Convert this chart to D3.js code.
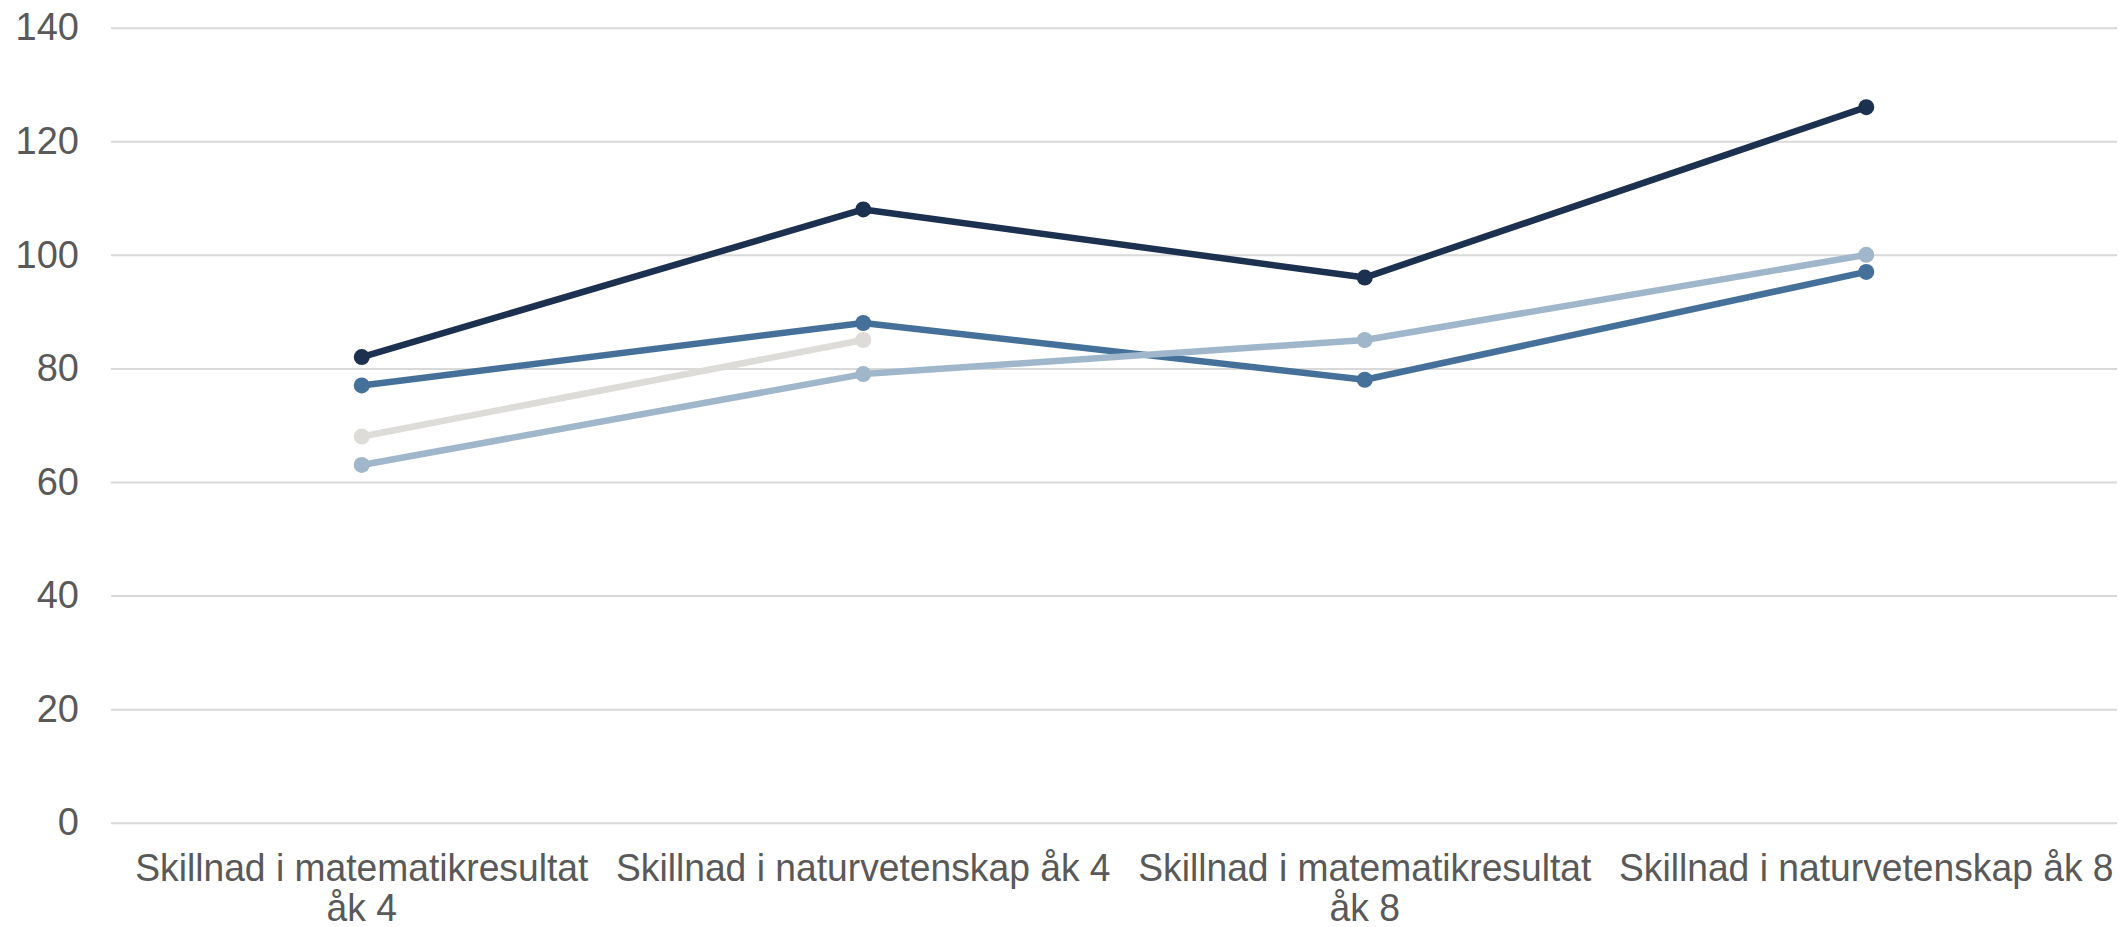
<!DOCTYPE html>
<html>
<head>
<meta charset="utf-8">
<script src="https://cdn.jsdelivr.net/npm/d3@7"></script>
<style>
  body { margin: 0; background: #fff; }
  svg { display: block; }
</style>
</head>
<body>
<svg id="chart"></svg>
<script>
const categories = [
  "Skillnad i matematikresultat åk 4",
  "Skillnad i naturvetenskap åk 4",
  "Skillnad i matematikresultat åk 8",
  "Skillnad i naturvetenskap åk 8",
];

// drawing order: bottom first
const seriesGrey = [68, 85, null, null];
const seriesNavy = [82, 108, 96, 126];
const seriesBlue = [77, 88, 78, 97];
const seriesLightBlue = [63, 79, 85, 100];

const yTicks = [0, 20, 40, 60, 80, 100, 120, 140];

const series = [
  { name: "grey", values: seriesGrey, color: "#DDDCD8" },
  { name: "navy", values: seriesNavy, color: "#1C3050" },
  { name: "blue", values: seriesBlue, color: "#44709A" },
  { name: "lightblue", values: seriesLightBlue, color: "#A0B7CB" },
];

const width = 2119;
const height = 927;
const margin = { top: 27.7, right: 2, bottom: 104.3, left: 111 };
const font = "'Liberation Sans', Arial, sans-serif";
const squeeze = 0.98;

const svg = d3
  .select("#chart")
  .attr("width", width)
  .attr("height", height)
  .attr("viewBox", `0 0 ${width} ${height}`);

const x = d3
  .scaleBand()
  .domain(categories)
  .range([margin.left, width - margin.right])
  .padding(0);

const y = d3
  .scaleLinear()
  .domain([0, 140])
  .range([height - margin.bottom, margin.top]);

// gridlines + y labels
const yAxis = svg
  .append("g")
  .attr("transform", `translate(${margin.left},0)`)
  .call(
    d3
      .axisLeft(y)
      .tickValues(yTicks)
      .tickSize(-(width - margin.left - margin.right))
      .tickPadding(32)
  );
yAxis.select(".domain").remove();
yAxis.selectAll(".tick line").attr("stroke", "#D9D9D9").attr("stroke-width", 2);
yAxis
  .selectAll(".tick text")
  .style("font-family", font)
  .style("font-size", "38px")
  .attr("fill", "#595959");

// x labels
const xAxis = svg
  .append("g")
  .attr("transform", `translate(0,${height - margin.bottom})`)
  .call(d3.axisBottom(x).tickSize(0).tickPadding(31));
xAxis.select(".domain").remove();
xAxis
  .selectAll(".tick text")
  .style("font-family", font)
  .style("font-size", "38px")
  .attr("fill", "#595959")
  .attr("transform", `scale(${squeeze},1)`)
  .each(function (d) {
    const text = d3.select(this);
    const words = d.split(/\s+/);
    const maxW = x.bandwidth();
    const yy = text.attr("y");
    text.text(null);
    const lines = [];
    let cur = [];
    const probe = text.append("tspan");
    for (const w of words) {
      cur.push(w);
      probe.text(cur.join(" "));
      if (probe.node().getComputedTextLength() * squeeze > maxW && cur.length > 1) {
        cur.pop();
        lines.push(cur.join(" "));
        cur = [w];
      }
    }
    lines.push(cur.join(" "));
    text.text(null);
    lines.forEach((l, i) => {
      text
        .append("tspan")
        .attr("x", 0)
        .attr("y", yy)
        .attr("dy", 27 + i * 40)
        .text(l);
    });
  });

// lines and markers
const line = d3
  .line()
  .defined((d) => d != null)
  .x((d, i) => x(categories[i]) + x.bandwidth() / 2)
  .y((d) => y(d));

const gSeries = svg
  .selectAll("g.series")
  .data(series)
  .enter()
  .append("g")
  .attr("class", "series");

gSeries
  .append("path")
  .attr("d", (s) => line(s.values))
  .attr("fill", "none")
  .attr("stroke", (s) => s.color)
  .attr("stroke-width", 6.5)
  .attr("stroke-linejoin", "round");

gSeries
  .selectAll("circle")
  .data((s) =>
    s.values
      .map((v, i) => ({ v, i, color: s.color }))
      .filter((p) => p.v != null)
  )
  .enter()
  .append("circle")
  .attr("cx", (p) => x(categories[p.i]) + x.bandwidth() / 2)
  .attr("cy", (p) => y(p.v))
  .attr("r", 8)
  .attr("fill", (p) => p.color);
</script>
</body>
</html>
